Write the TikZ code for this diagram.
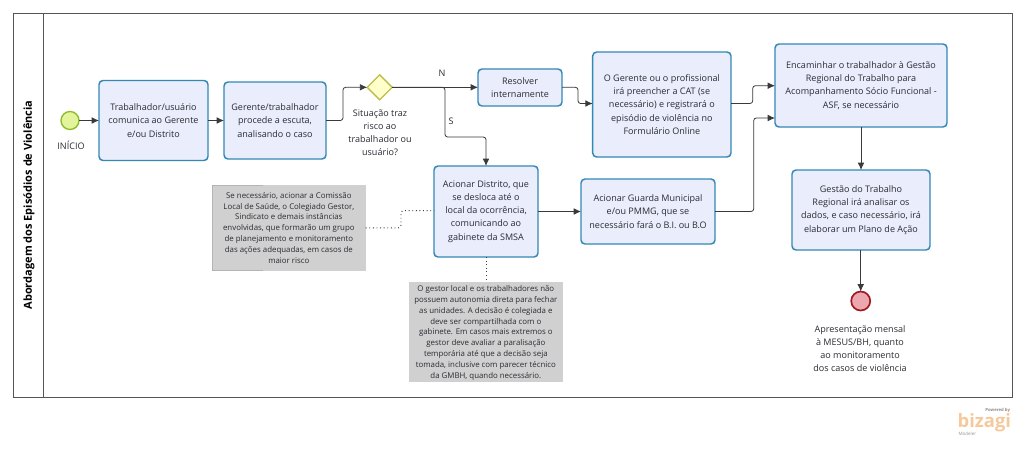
\documentclass[tikz,border=0pt]{standalone}
\usepackage{fontspec}
\setmainfont{Open Sans}
\usetikzlibrary{arrows.meta,shapes.geometric,calc}
\definecolor{boxline}{HTML}{3388B4}
\definecolor{boxfill}{HTML}{E9EDFC}
\definecolor{txt}{HTML}{2B2B33}
\definecolor{notefill}{HTML}{D0D0D0}
\definecolor{noteedge}{HTML}{B4B4B4}
\definecolor{frameline}{HTML}{555555}
\definecolor{wire}{HTML}{3A3A3A}
\definecolor{startline}{HTML}{8DBB2A}
\definecolor{startfill}{HTML}{E2F59A}
\definecolor{endline}{HTML}{A01820}
\definecolor{endfill}{HTML}{ECA8AE}
\definecolor{gateline}{HTML}{BDBD4A}
\definecolor{gatefill}{HTML}{FFFFCC}
\definecolor{logoorange}{HTML}{F6C99C}
\tikzset{
  x=0.75pt,y=-0.75pt,
  every node/.style={text=txt,inner sep=0pt,outer sep=0pt},
  task/.style={draw=boxline,line width=1.1pt,fill=boxfill,rounded corners=3pt,align=center,
    font=\fontsize{6.78pt}{9.85pt}\selectfont},
  note/.style={fill=notefill,align=center,font=\fontsize{5.9pt}{8.17pt}\selectfont},
  label/.style={align=center,font=\fontsize{6.78pt}{9.85pt}\selectfont},
  flow/.style={draw=wire,line width=0.6pt,rounded corners=2pt,-{Latex[length=5.5pt,width=5pt]}},
  assoc/.style={draw=wire,line width=0.7pt,dotted,rounded corners=2pt},
}
\newcommand{\taskat}[6]{% name, x1,y1,x2,y2,text
  \node[task,minimum width={(#4-#2)*0.75pt},minimum height={(#5-#3)*0.75pt}] (#1) at ({(#2+#4)/2},{(#3+#5)/2}) {#6};}
\newcommand{\noteat}[6]{%
  \node[note,minimum width={(#4-#2)*0.75pt},minimum height={(#5-#3)*0.75pt}] (#1) at ({(#2+#4)/2},{(#3+#5)/2}) {#6};}
\begin{document}
\begin{tikzpicture}
\useasboundingbox (0,0) rectangle (1024,454);
\fill[white] (0,0) rectangle (1024,454);
% pool
\node[draw=frameline,line width=0.75pt,minimum width={999*0.75pt},minimum height={384*0.75pt}] (pool) at (512.5,205) {};
\node[draw=frameline,line width=0.75pt,minimum width={30.7*0.75pt},minimum height={384*0.75pt}] (lane) at (28.35,205) {};
\node[rotate=90,font=\fontsize{8.25pt}{9pt}\selectfont\bfseries,text=black] (title) at (29,205) {Abordagem dos Episódios de Violência};
% events
\node[circle,draw=startline,line width=1pt,fill=startfill,minimum size={18*0.75pt}] (start) at (70,120.5) {};
\node[label] (startl) at (71,145) {INÍCIO};
\taskat{b1}{99}{80.5}{208}{160.5}{Trabalhador/usuário\\comunica ao Gerente\\e/ou Distrito}
\taskat{b2}{224}{82}{326}{159}{Gerente/trabalhador\\procede a escuta,\\analisando o caso}
\node[diamond,draw=gateline,line width=1pt,fill=gatefill,minimum width={25*0.75pt},minimum height={25*0.75pt},aspect=1] (dia) at (379.7,87.3) {};
\node[label] (dial) at (380,133) {Situação traz\\risco ao\\trabalhador ou\\usuário?};
\node[label] (nl) at (442,73) {N};
\node[label] (sl) at (451,121) {S};
\taskat{res}{478}{69}{562}{106}{Resolver\\internamente}
\taskat{ger}{592.7}{52}{731}{157}{O Gerente ou o profissional\\irá preencher a CAT (se\\necessário) e registrará o\\episódio de violência no\\Formulário Online}
\taskat{enc}{775}{44}{947}{127}{Encaminhar o trabalhador à Gestão\\Regional do Trabalho para\\Acompanhamento Sócio Funcional -\\ASF, se necessário}
\taskat{dis}{434}{166}{538}{257}{Acionar Distrito, que\\se desloca até o\\local da ocorrência,\\comunicando ao\\gabinete da SMSA}
\taskat{gua}{581}{179}{715}{244}{Acionar Guarda Municipal\\e/ou PMMG, que se\\necessário fará o B.I. ou B.O}
\taskat{ges}{792}{170}{930}{250}{Gestão do Trabalho\\Regional irá analisar os\\dados, e caso necessário, irá\\elaborar um Plano de Ação}
\node[circle,draw=endline,line width=1.25pt,fill=endfill,minimum size={19*0.75pt}] (end) at (860.7,301) {};
\node[label] (endl) at (860,348.5) {Apresentação mensal\\à MESUS/BH, quanto\\ao monitoramento\\dos casos de violência};
\noteat{n1}{212}{185}{365.7}{270.7}{Se necessário, acionar a Comissão\\Local de Saúde, o Colegiado Gestor,\\Sindicato e demais instâncias\\envolvidas, que formarão um grupo\\de planejamento e monitoramento\\das ações adequadas, em casos de\\maior risco}
\noteat{n2}{409}{281.7}{562.7}{382}{\rule{0pt}{6pt}O gestor local e os trabalhadores não\\possuem autonomia direta para fechar\\as unidades. A decisão é colegiada e\\deve ser compartilhada com o\\gabinete. Em casos mais extremos o\\gestor deve avaliar a paralisação\\temporária até que a decisão seja\\tomada, inclusive com parecer técnico\\da GMBH, quando necessário.}
\draw[noteedge,line width=0.6pt] ($(n1.north west)+(51,0)$) -- (n1.north west) -- (n1.south west) -- ($(n1.south west)+(51,0)$);
% waypoints
\coordinate (w1) at (343,87.3);
\coordinate (w2) at (445,137);
\coordinate (w3) at (578,103.5);
\coordinate (w4) at (752.7,85.7);
\coordinate (w5) at (753.7,118);
\coordinate (w6) at (401,210.7);
% connectors
\draw[flow] (start.east) -- (b1.west |- start.east);
\draw[flow] (b1.east |- start.east) -- (b2.west |- start.east);
\draw[flow] (b2.east |- start.east) -| (w1) -- (dia.west);
\draw[flow] (dia.east) -- (res.west |- dia.east);
\draw[flow] (dia.east) -- (w1 -| w2) -- (w2) -- (dis.north |- w2) -- (dis.north);
\draw[flow] (res.east |- dia.east) -| (w3) -- (ger.west |- w3);
\draw[flow] (ger.east |- w3) -| (w4) -- (enc.west |- w4);
\draw[flow] (gua.east) -| (w5) -- (enc.west |- w5);
\draw[flow] (dis.east |- gua.east) -- (gua.west);
\draw[flow] (enc.south -| ges.north) -- (ges.north);
\draw[flow] (ges.south -| end.north) -- (end.north);
\draw[assoc] (n1.east) -| (w6) -- (dis.west |- w6);
\draw[assoc] (dis.south) -- (dis.south |- n2.north);
% logo
\node[anchor=base east,font=\fontsize{3.2pt}{4pt}\selectfont\bfseries,text=black!45] (pw) at (1010,411.3) {Powered by};
\node[anchor=base east,font=\fontsize{13.8pt}{16pt}\selectfont\bfseries,text=logoorange] (biz) at (1011,427.5) {bizagi};
\node[anchor=west,font=\fontsize{3.4pt}{4pt}\selectfont,text=black!40] (mod) at (958.5,433.5) {Modeler};
\end{tikzpicture}
\end{document}
